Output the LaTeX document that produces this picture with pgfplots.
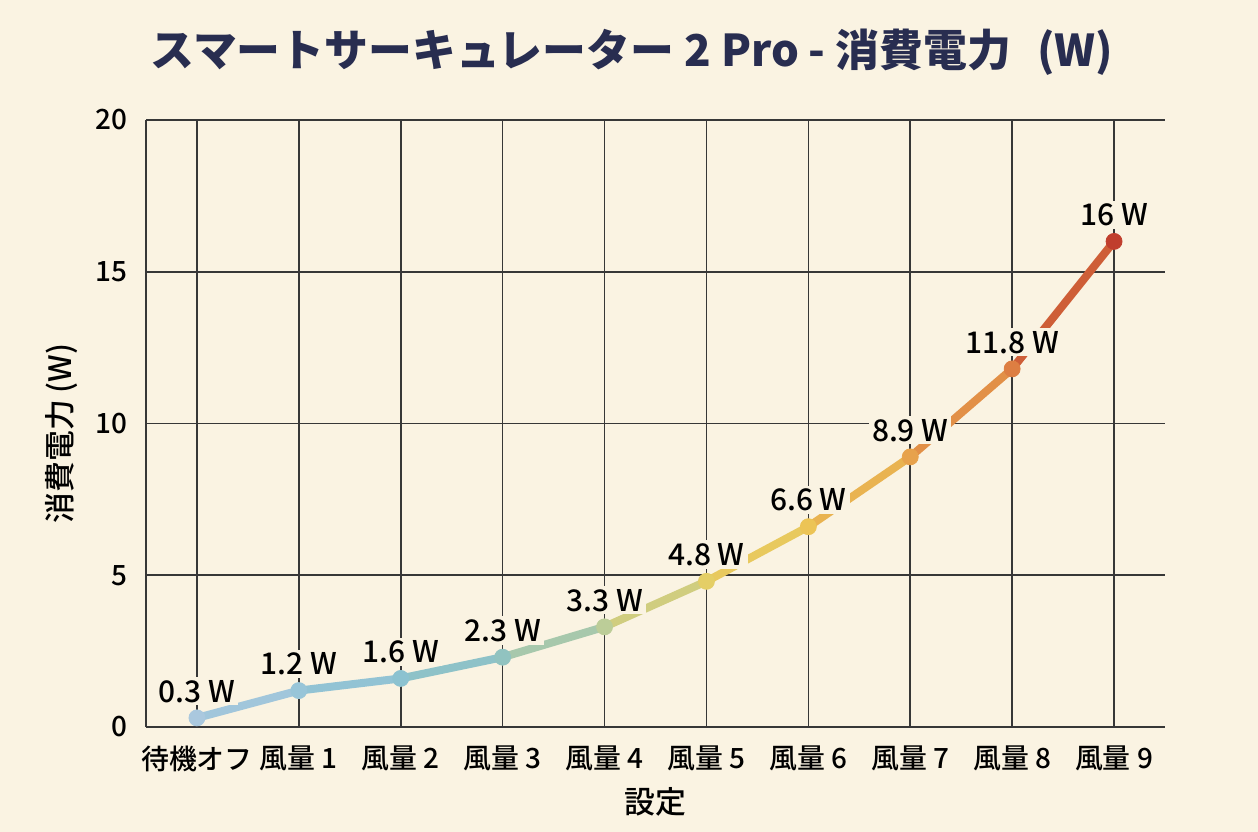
\documentclass[border=0pt]{standalone}
\usepackage{fontspec}
\setmainfont{Noto Sans CJK JP}
\newfontfamily\medfont{Noto Sans CJK JP Medium}
\usepackage{pgfplots}
\usepackage{pgfplotstable}
\pgfplotsset{compat=1.18}

\definecolor{bg}{RGB}{250,243,226}
\definecolor{gridc}{RGB}{55,55,55}
\definecolor{titlec}{RGB}{40,45,80}

\pgfplotstableread{
x y lab
0 0.3 {0.3 W}
1 1.2 {1.2 W}
2 1.6 {1.6 W}
3 2.3 {2.3 W}
4 3.3 {3.3 W}
5 4.8 {4.8 W}
6 6.6 {6.6 W}
7 8.9 {8.9 W}
8 11.8 {11.8 W}
9 16 {16 W}
}\power

\begin{document}
\begin{tikzpicture}
\fill[bg] (0,0) rectangle (629bp,416bp);
\useasboundingbox (0,0) rectangle (629bp,416bp);
\node[text=titlec, font=\fontsize{22}{26}\selectfont\bfseries] at (316bp,390bp)
  {スマートサーキュレーター 2 Pro - 消費電力\hspace{0.6em}(W)};
\begin{axis}[
  at={(73bp,52.5bp)}, anchor=south west,
  scale only axis, width=509.5bp, height=303.5bp,
  xmin=-0.5, xmax=9.5, ymin=0, ymax=20,
  xtick={0,...,9},
  xticklabels={待機オフ,風量 1,風量 2,風量 3,風量 4,風量 5,風量 6,風量 7,風量 8,風量 9},
  ytick={0,5,10,15,20},
  /pgf/number format/assume math mode=true,
  tick label style={font=\medfont\fontsize{14}{16}\selectfont, text=black},
  xticklabel style={yshift=-6bp},
  yticklabel style={xshift=-6bp},
  major tick length=0pt,
  axis x line*=bottom, axis y line*=left,
  axis line style={draw=gridc, line width=1bp, -},
  grid=major,
  major grid style={draw=gridc, line width=0.8bp},
  xlabel={設定}, ylabel={消費電力 (W)},
  label style={font=\medfont\fontsize{15.5}{18}\selectfont},
  xlabel style={yshift=-1bp},
  ylabel style={yshift=2bp, xshift=-5bp},
  colormap={heat}{rgb255(0)=(170,200,222) rgb255(1)=(152,197,216) rgb255(2)=(140,194,208) rgb255(3)=(145,195,192) rgb255(4)=(188,205,152) rgb255(5)=(228,206,102) rgb255(6)=(236,196,86) rgb255(7)=(231,162,76) rgb255(8)=(221,126,66) rgb255(9)=(192,62,45)},
  clip=false,
]
\addplot[mesh, point meta=x, line width=4bp, line cap=round, line join=round] table[x=x, y=y] {\power};
\addplot[scatter, only marks, point meta=x, mark=*, mark size=4bp,
  scatter/use mapped color={draw=mapped color, fill=mapped color}] table[x=x, y=y] {\power};
\addplot[only marks, mark=none, point meta=explicit symbolic,
  nodes near coords,
  every node near coord/.style={font=\medfont\fontsize{15}{18}\selectfont, text=black, fill=bg, inner sep=1.5bp, anchor=south, yshift=6bp}]
  table[x=x, y=y, meta=lab] {\power};
\end{axis}
\end{tikzpicture}
\end{document}
